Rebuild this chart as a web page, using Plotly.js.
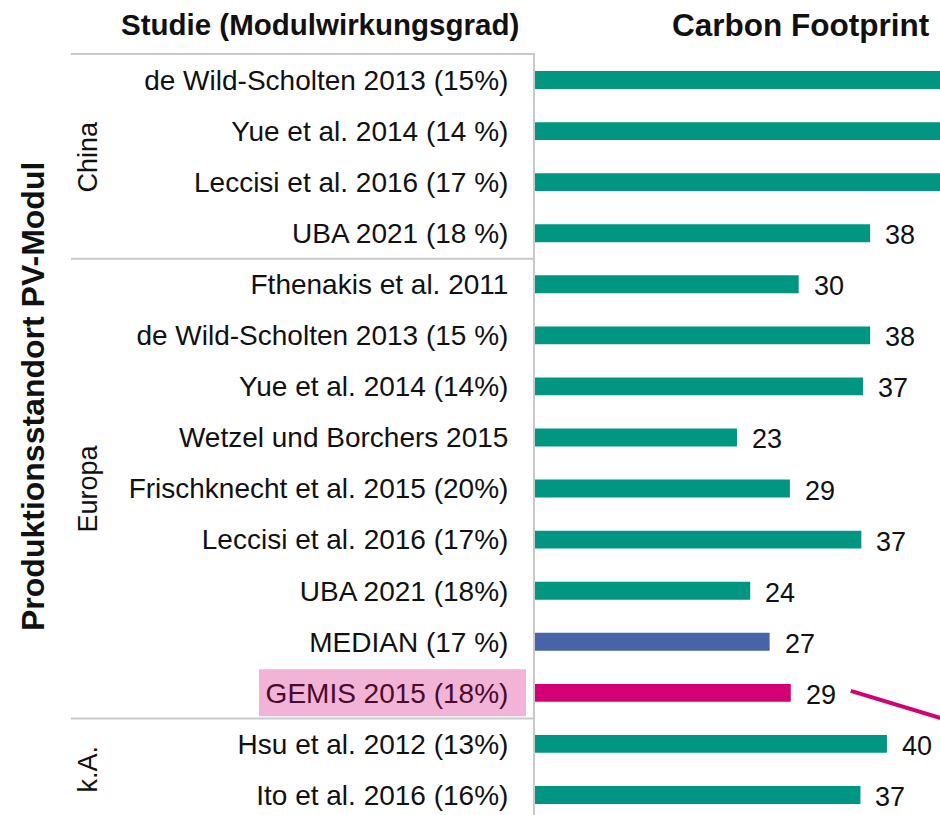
<!DOCTYPE html>
<html>
<head>
<meta charset="utf-8">
<script src="https://cdn.plot.ly/plotly-3.0.1.min.js"></script>
<style>html,body{margin:0;padding:0;background:#fff;}#chart{width:940px;height:815px;}</style>
</head>
<body>
<div id="chart"></div>
<script>
// ---- data ----
const studies = [
  "de Wild-Scholten 2013 (15%)",
  "Yue et al. 2014 (14 %)",
  "Leccisi et al. 2016 (17 %)",
  "UBA 2021 (18 %)",
  "Fthenakis et al. 2011",
  "de Wild-Scholten 2013 (15 %)",
  "Yue et al. 2014 (14%)",
  "Wetzel und Borchers 2015",
  "Frischknecht et al. 2015 (20%)",
  "Leccisi et al. 2016 (17%)",
  "UBA 2021 (18%)",
  "MEDIAN (17 %)",
  "GEMIS 2015 (18%)",
  "Hsu et al. 2012 (13%)",
  "Ito et al. 2016 (16%)"
];
// first three values run beyond the cropped edge (estimated)
const footprint = [66, 72, 62, 38, 29.9, 38, 37.2, 22.9, 28.9, 37, 24.4, 26.6, 29, 39.9, 36.9];
const kind = ["study","study","study","study","study","study","study","study","study","study","study","median","gemis","study","study"];
const regions = ["China", "Europa", "k.A."];
const regionCounts = [4, 9, 2];

// ---- styling ----
const FONT = "Liberation Sans, Arial, Helvetica, sans-serif";
const colorOf = {study: "#009681", median: "#4764a9", gemis: "#d20073"};
const gridGray = "#c9c9c9";
const W = 940, H = 815, ML = 535, MT = 54;
const plotW = W - ML, plotH = H - MT;
const pxPerUnit = 8.82;
const rowPx = 51.07;
const firstRowPx = 26;          // from top of plot area
const xMax = plotW / pxPerUnit;
const yTop = -firstRowPx / rowPx;
const yBot = yTop + plotH / rowPx;

const idx = studies.map((_, i) => i);
const gemisIdx = kind.indexOf("gemis");
const ticktext = studies.map((s, i) => i === gemisIdx ? '<span style="color:#4a0a2e">' + s + '</span>' : s);
const px2paperX = p => (p - ML) / plotW;
const px2paperY = p => 1 - (p - MT) / plotH;

const traces = [
  {
    type: "bar", orientation: "h",
    x: footprint, y: idx,
    width: 0.35,
    marker: {color: kind.map(k => colorOf[k])},
    hoverinfo: "skip", showlegend: false
  }
];

const shapes = [];
const annotations = [];

// value labels (those beyond the cropped edge are not visible in the reference)
footprint.forEach((v, i) => {
  if (v > xMax) return;
  annotations.push({
    xref: "x", yref: "y", x: v, y: i, text: String(Math.round(v)),
    showarrow: false, xanchor: "left", yanchor: "middle", xshift: 13, yshift: -2,
    font: {family: FONT, size: 27, color: "#111"}
  });
});

// group separators & labels
let start = 0;
regions.forEach((r, gi) => {
  const n = regionCounts[gi];
  const mid = start + (n - 1) / 2;
  annotations.push({
    xref: "paper", yref: "y", x: px2paperX(88), y: mid,
    text: r, textangle: -90, showarrow: false,
    font: {family: FONT, size: 27, color: "#111"},
    xanchor: "center", yanchor: "middle"
  });
  if (gi < regions.length - 1) {
    shapes.push({type: "line", xref: "paper", yref: "y",
      x0: px2paperX(71), x1: 0, y0: start + n - 0.5, y1: start + n - 0.5,
      line: {color: gridGray, width: 2}});
  }
  start += n;
});
// top border
shapes.push({type: "line", xref: "paper", yref: "paper",
  x0: px2paperX(71), x1: 0, y0: 1, y1: 1, line: {color: gridGray, width: 2}});
// GEMIS highlight box
shapes.push({type: "rect", xref: "paper", yref: "y", layer: "below",
  x0: px2paperX(259), x1: px2paperX(526), y0: gemisIdx - 0.46, y1: gemisIdx + 0.46,
  fillcolor: "#f1b4d6", line: {width: 0}});
// GEMIS pointer line (cropped at right edge)
shapes.push({type: "line", xref: "x", yref: "y",
  x0: footprint[gemisIdx] + 6.8, y0: gemisIdx - 0.04,
  x1: footprint[gemisIdx] + 19, y1: gemisIdx + 0.60,
  line: {color: "#d20073", width: 4}});

annotations.push(
  {xref: "paper", yref: "paper", x: px2paperX(320), y: px2paperY(25),
   text: "<b>Studie (Modulwirkungsgrad)</b>", showarrow: false,
   font: {family: FONT, size: 29.5, color: "#111"}, xanchor: "center", yanchor: "middle"},
  {xref: "paper", yref: "paper", x: px2paperX(670), y: px2paperY(25),
   text: "<b>Carbon Footprint</b>", showarrow: false,
   font: {family: FONT, size: 31.5, color: "#111"}, xanchor: "left", yanchor: "middle"},
  {xref: "paper", yref: "paper", x: px2paperX(33), y: px2paperY(396),
   text: "<b>Produktionsstandort PV-Modul</b>", textangle: -90, showarrow: false,
   font: {family: FONT, size: 32, color: "#111"}, xanchor: "center", yanchor: "middle"}
);

const layout = {
  width: W, height: H,
  margin: {l: ML, r: 0, t: MT, b: 0, pad: 0},
  paper_bgcolor: "#fff", plot_bgcolor: "#fff",
  font: {family: FONT, color: "#111"},
  showlegend: false,
  xaxis: {range: [0, xMax], showticklabels: false, showgrid: false, zeroline: false, showline: false, fixedrange: true},
  yaxis: {
    range: [yBot, yTop],
    tickmode: "array", tickvals: idx, ticktext: ticktext,
    ticks: "", ticklabelstandoff: 19,
    tickfont: {family: FONT, size: 28, color: "#111"},
    showgrid: false, zeroline: false,
    showline: true, linecolor: gridGray, linewidth: 2,
    fixedrange: true
  },
  shapes: shapes,
  annotations: annotations
};

Plotly.newPlot("chart", traces, layout, {staticPlot: true, displayModeBar: false});
</script>
</body>
</html>
